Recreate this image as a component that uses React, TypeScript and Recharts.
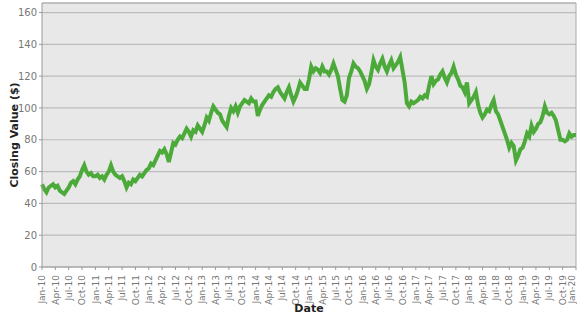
import { LineChart, Line, XAxis, YAxis, CartesianGrid, ReferenceLine } from 'recharts'

// semi-monthly closing values, two per month
const v2010 = [52, 49, 47, 50, 51, 52, 50, 51, 48, 47, 46, 48, 50, 53, 54, 52, 55, 57, 61, 64, 60, 58, 59, 57]
const v2011 = [57, 58, 56, 57, 55, 58, 60, 64, 60, 58, 57, 56, 57, 54, 50, 53, 52, 55, 54, 56, 58, 57, 59, 61]
const v2012 = [62, 65, 64, 67, 70, 73, 72, 74, 71, 66, 72, 78, 77, 80, 82, 81, 84, 87, 85, 82, 86, 85, 89, 87]
const v2013 = [85, 89, 94, 92, 97, 101, 99, 97, 96, 92, 90, 88, 95, 100, 98, 101, 97, 101, 103, 105, 104, 103, 106, 104]
const v2014 = [104, 95, 99, 102, 104, 106, 108, 107, 110, 112, 113, 110, 108, 106, 110, 113, 108, 104, 107, 111, 116, 114, 112, 112]
const v2015 = [118, 126, 123, 125, 124, 122, 126, 123, 123, 121, 124, 128, 124, 120, 112, 105, 104, 108, 119, 123, 128, 126, 125, 123]
const v2016 = [120, 117, 112, 115, 122, 130, 126, 124, 128, 131, 126, 123, 127, 130, 125, 127, 129, 132, 124, 116, 103, 101, 104, 103]
const v2017 = [104, 105, 107, 106, 108, 107, 114, 120, 115, 117, 118, 121, 123, 119, 116, 120, 122, 126, 121, 118, 114, 113, 110, 116]
const v2018 = [103, 105, 107, 110, 102, 97, 94, 96, 99, 98, 102, 105, 98, 96, 92, 88, 84, 80, 75, 78, 76, 67, 70, 74]
const v2019 = [75, 79, 84, 82, 89, 85, 87, 90, 91, 95, 101, 97, 96, 97, 95, 92, 86, 80, 80, 79, 80, 84, 82, 83]
const vJan2020 = 83

const years = ['10', '11', '12', '13', '14', '15', '16', '17', '18', '19', '20']
const quarterMonths = ['Jan', 'Apr', 'Jul', 'Oct']
const yTicks = [0, 20, 40, 60, 80, 100, 120, 140, 160]

const allValues = [...v2010, ...v2011, ...v2012, ...v2013, ...v2014, ...v2015, ...v2016, ...v2017, ...v2018, ...v2019, vJan2020]
// t = months since Jan-10
const data = allValues.map((value, i) => ({ t: i / 2, value }))

const quarterLabels: string[] = []
years.forEach((y, yi) => {
  quarterMonths.forEach(m => {
    if (yi < years.length - 1 || m === 'Jan') quarterLabels.push(`${m}-${y}`)
  })
})
const xTicks = quarterLabels.map((_, i) => i * 3)

const FONT = '"DejaVu Sans", Verdana, sans-serif'

function DateTick({ x, y, payload }: any) {
  const idx = Math.round(payload.value / 3)
  // keep the last label inside the frame
  const cx = idx === quarterLabels.length - 1 ? x - 4 : x
  return (
    <text
      transform={`translate(${cx},${y + 3}) rotate(-90)`}
      textAnchor="end"
      dy="0.35em"
      fill="#777"
      fontSize={9}
      fontFamily={FONT}
    >
      {quarterLabels[idx]}
    </text>
  )
}

export default function App() {
  return (
    <div style={{ position: 'absolute', left: 0, top: 0, background: '#fff' }}>
      <LineChart width={577} height={315} data={data} margin={{ top: 3, right: 1, left: 0, bottom: 0 }}>
        <CartesianGrid fill="#e8e8e8" stroke="#bcbcbc" strokeWidth={1.2} vertical={false} />
        <XAxis
          dataKey="t"
          type="number"
          domain={[0, 120]}
          ticks={xTicks}
          interval={0}
          height={48}
          tick={<DateTick />}
          tickSize={3}
          stroke="#999"
          label={{ value: 'Date', position: 'insideBottom', offset: 3, style: { fontFamily: FONT, fontSize: 11, fontWeight: 'bold', fill: '#222' } }}
        />
        <YAxis
          domain={[0, 166]}
          ticks={yTicks}
          width={42}
          tickSize={3}
          stroke="#999"
          tick={{ fill: '#777', fontSize: 10, fontFamily: FONT }}
          label={{ value: 'Closing Value ($)', angle: -90, position: 'center', dx: -7, style: { fontFamily: FONT, fontSize: 11, fontWeight: 'bold', fill: '#222' } }}
        />
        <ReferenceLine y={166} stroke="#aaa" />
        <ReferenceLine x={120} stroke="#aaa" />
        <Line
          type="linear"
          dataKey="value"
          stroke="#4caa3a"
          strokeWidth={4}
          dot={false}
          isAnimationActive={false}
        />
      </LineChart>
    </div>
  )
}
